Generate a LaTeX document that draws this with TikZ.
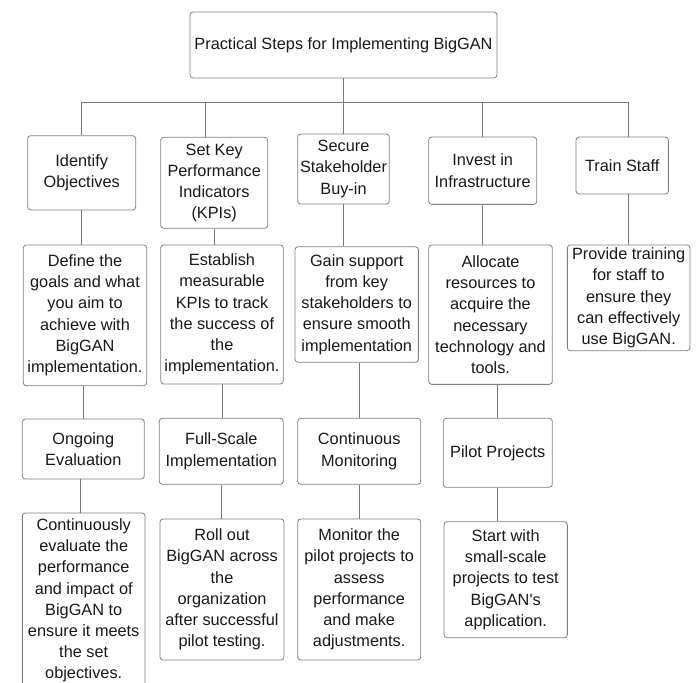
\documentclass[tikz,border=0pt]{standalone}
\usepackage{fontspec}
\setmainfont{Liberation Sans}[Ligatures=TeXOff]
\usetikzlibrary{calc}

\definecolor{boxgray}{RGB}{128,128,128}
\definecolor{linegray}{RGB}{120,120,120}

\tikzset{
  box/.style={rectangle, draw=boxgray, line width=0.8pt, rounded corners=3pt,
              align=center, inner sep=2pt, text=black!90,
              font=\fontsize{16.3}{21.2}\selectfont},
  link/.style={draw=linegray, line width=0.8pt}
}

\begin{document}
\begin{tikzpicture}[x=1pt,y=-1pt]

  \useasboundingbox[fill=white] (0,0) rectangle (698,682);
  \clip (0,0) rectangle (698,682);

  \node (title) at (343.5,45) [box, minimum width=307pt, minimum height=66pt]
        {Practical Steps for Implementing BigGAN};
  \coordinate (bus) at (343.5,102);

  % first row: the five steps
  \node (objA) at (81.7,172.8) [box, minimum width=108pt, minimum height=74.3pt]
        {Identify\\Objectives};
  \node (kpiA) at (214.2,182.8) [box, minimum width=107pt, minimum height=91pt]
        {Set Key\\Performance\\Indicators\\(KPIs)};
  \node (buyA) at (343.5,169) [box, minimum width=91.6pt, minimum height=70pt]
        {Secure\\Stakeholder\\Buy-in};
  \node (infA) at (482.7,170.7) [box, minimum width=108pt, minimum height=67.3pt]
        {Invest in\\Infrastructure};
  \node (staffA) at (622.2,165.5) [box, minimum width=92.3pt, minimum height=57pt]
        {Train Staff};

  % second row: what each step means
  \node (objB) at (85,315.3) [box, minimum width=123.4pt, minimum height=140.7pt]
        {Define the\\goals and what\\you aim to\\achieve with\\BigGAN\\implementation.};
  \node (kpiB) at (222,314.5) [box, minimum width=122.6pt, minimum height=139pt]
        {Establish\\measurable\\KPIs to track\\the success of\\the\\implementation.};
  \node (buyB) at (356.7,304.5) [box, minimum width=123.3pt, minimum height=115.6pt]
        {Gain support\\from key\\stakeholders to\\ensure smooth\\implementation};
  \node (infB) at (490.5,314.7) [box, minimum width=123.6pt, minimum height=139.3pt]
        {Allocate\\resources to\\acquire the\\necessary\\technology and\\tools.};
  \node (staffB) at (628.7,297.8) [box, minimum width=122.7pt, minimum height=105.7pt]
        {Provide training\\for staff to\\ensure they\\can effectively\\use BigGAN.};

  % third row
  \node (objC) at (83.3,449) [box, minimum width=122pt, minimum height=60pt]
        {Ongoing\\Evaluation};
  \node (kpiC) at (221.3,451.3) [box, minimum width=124pt, minimum height=66pt]
        {Full-Scale\\Implementation};
  \node (buyC) at (359.2,451.3) [box, minimum width=123pt, minimum height=66pt]
        {Continuous\\Monitoring};
  \node (infC) at (497.8,452.8) [box, minimum width=109pt, minimum height=69pt]
        {Pilot Projects};

  % fourth row
  \node (objD) at (83.7,600.5) [box, minimum width=122.7pt, minimum height=175pt]
        {Continuously\\evaluate the\\performance\\and impact of\\BigGAN to\\ensure it meets\\the set\\objectives.};
  \node (kpiD) at (222,589.5) [box, minimum width=124pt, minimum height=141pt]
        {Roll out\\BigGAN across\\the\\organization\\after successful\\pilot testing.};
  \node (buyD) at (359.2,589.5) [box, minimum width=123pt, minimum height=141pt]
        {Monitor the\\pilot projects to\\assess\\performance\\and make\\adjustments.};
  \node (infD) at (505.7,579.7) [box, minimum width=123.3pt, minimum height=116pt]
        {Start with\\small-scale\\projects to test\\BigGAN's\\application.};

  \draw[link] (title.south) -- (bus);
  \draw[link] (bus) -| (objA.north);
  \draw[link] (bus) -| ([xshift=-9pt]kpiA.north);
  \draw[link] (bus) -- (buyA.north);
  \draw[link] (bus) -| (infA.north);
  \draw[link] (bus) -| ([xshift=6pt]staffA.north);

  \draw[link] (objA.south) -- (objA.south |- objB.north);
  \draw[link] (kpiA.south) -- (kpiA.south |- kpiB.north);
  \draw[link] (buyA.south) -- (buyA.south |- buyB.north);
  \draw[link] (infA.south) -- (infA.south |- infB.north);
  \draw[link] (staffB.north) -- (staffB.north |- staffA.south);

  \draw[link] (objC.north) -- (objC.north |- objB.south);
  \draw[link] (kpiB.south) -- (kpiB.south |- kpiC.north);
  \draw[link] (buyC.north) -- (buyC.north |- buyB.south);
  \draw[link] (infC.north) -- (infC.north |- infB.south);

  \draw[link] ([xshift=-3pt]objC.south) -- ([xshift=-3pt]objC.south |- objD.north);
  \draw[link] (kpiC.south) -- (kpiC.south |- kpiD.north);
  \draw[link] (buyC.south) -- (buyC.south |- buyD.north);
  \draw[link] (infC.south) -- (infC.south |- infD.north);

\end{tikzpicture}
\end{document}
